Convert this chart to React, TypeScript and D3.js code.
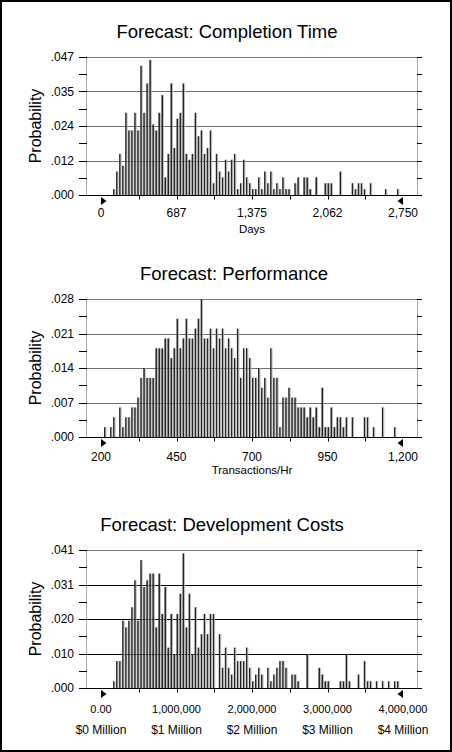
import { useEffect, useRef } from "react"
import * as d3 from "d3"

// Forecast: Completion Time — probability per 27.5-day bin, first bar is bin 4
const completionProbs = [
  0.002, 0.008, 0.014, 0.01, 0.028, 0.022, 0.022, 0.028, 0.022, 0.044,
  0.028, 0.038, 0.046, 0.024, 0.022, 0.028, 0.034, 0.006, 0.014, 0.038,
  0.016, 0.026, 0.028, 0.038, 0.014, 0.012, 0.014, 0.028, 0.02, 0.022,
  0.014, 0.016, 0.022, 0.004, 0.014, 0.008, 0.006, 0.012, 0.008, 0.012,
  0.014, 0.002, 0.004, 0.012, 0.006, 0.004, 0.002, 0.002, 0.006, 0.002,
  0.008, 0.004, 0.008, 0.002, 0.004, 0.002, 0.006, 0.002, 0.002, 0,
  0.004, 0.006, 0, 0.006, 0.006, 0.002, 0, 0.006, 0, 0,
  0.004, 0.004, 0.004, 0, 0, 0.008, 0, 0, 0, 0.004,
  0.002, 0.004, 0.004, 0.002, 0, 0.004, 0, 0, 0, 0,
  0.002, 0, 0, 0, 0.002,
]
const completionXTicks = ["0", "687", "1,375", "2,062", "2,750"]
const completionYTicks = [".000", ".012", ".024", ".035", ".047"]

// Forecast: Performance — probability per 10 transactions/hr bin, first bar is bin 1
const performanceProbs = [
  0.002, 0, 0.002, 0.004, 0, 0.006, 0.002, 0.004, 0.004, 0.006,
  0.006, 0.008, 0.012, 0.014, 0.012, 0.012, 0.012, 0.018, 0.018, 0.018,
  0.02, 0.02, 0.016, 0.018, 0.024, 0.018, 0.02, 0.024, 0.02, 0.02,
  0.022, 0.024, 0.028, 0.02, 0.02, 0.022, 0.018, 0.022, 0.02, 0.022,
  0.018, 0.02, 0.018, 0.016, 0.022, 0.012, 0.018, 0.018, 0.016, 0.012,
  0.012, 0.014, 0.01, 0.012, 0.008, 0.018, 0.012, 0.012, 0.002, 0.008,
  0.008, 0.01, 0.008, 0.008, 0.006, 0.006, 0.006, 0.004, 0.006, 0.004,
  0.006, 0.002, 0.01, 0.002, 0.002, 0.006, 0.002, 0.004, 0.004, 0.002,
  0.004, 0, 0.004, 0, 0, 0, 0.004, 0.004, 0, 0.002,
  0, 0, 0.006, 0, 0, 0, 0.002,
]
const performanceXTicks = ["200", "450", "700", "950", "1,200"]
const performanceYTicks = [".000", ".007", ".014", ".021", ".028"]

// Forecast: Development Costs — probability per $40,000 bin, first bar is bin 4
const costProbs = [
  0.002, 0.008, 0.008, 0.02, 0.018, 0.02, 0.024, 0.032, 0.02, 0.038,
  0.03, 0.032, 0.034, 0.034, 0.018, 0.034, 0.022, 0.03, 0.012, 0.022,
  0.01, 0.022, 0.028, 0.04, 0.018, 0.028, 0.01, 0.024, 0.012, 0.016,
  0.022, 0.016, 0.022, 0.022, 0, 0.016, 0.006, 0.012, 0.006, 0.004,
  0.012, 0.008, 0.008, 0.008, 0.012, 0.006, 0.002, 0.004, 0.006, 0.004,
  0, 0.006, 0.002, 0.004, 0.006, 0.008, 0.008, 0.006, 0, 0.004,
  0.004, 0.002, 0, 0, 0.01, 0, 0, 0, 0.006, 0.004,
  0.002, 0.002, 0, 0, 0, 0.002, 0.002, 0.01, 0.002, 0,
  0, 0.004, 0, 0.008, 0.002, 0.002, 0, 0.002, 0, 0.002,
  0, 0.002, 0, 0.002, 0.002,
]
const costXTicks = ["0.00", "1,000,000", "2,000,000", "3,000,000", "4,000,000"]
const costXTicks2 = ["$0 Million", "$1 Million", "$2 Million", "$3 Million", "$4 Million"]
const costYTicks = [".000", ".010", ".020", ".031", ".041"]

const FONT = "'Liberation Sans', Arial, Helvetica, sans-serif"

interface ChartConfig {
  title: string
  titleX: number
  probs: number[]
  firstBin: number
  xDomain: [number, number]
  yMax: number
  yTicks: string[]
  xTicks: string[]
  xTicks2?: string[]
  xTickSize: number
  axisLabel?: string
  top: number
  base: number
  tickLabelY: number
  axisLabelY: number
  gridColor: string
}

const charts: ChartConfig[] = [
  {
    title: "Forecast: Completion Time",
    titleX: 227,
    probs: completionProbs,
    firstBin: 4,
    xDomain: [0, 2750],
    yMax: 0.047,
    yTicks: completionYTicks,
    xTicks: completionXTicks,
    xTickSize: 12,
    axisLabel: "Days",
    top: 57,
    base: 195,
    tickLabelY: 213,
    axisLabelY: 229,
    gridColor: "#707070",
  },
  {
    title: "Forecast: Performance",
    titleX: 234,
    probs: performanceProbs,
    firstBin: 1,
    xDomain: [200, 1200],
    yMax: 0.028,
    yTicks: performanceYTicks,
    xTicks: performanceXTicks,
    xTickSize: 12,
    axisLabel: "Transactions/Hr",
    top: 299,
    base: 437,
    tickLabelY: 457,
    axisLabelY: 470,
    gridColor: "#707070",
  },
  {
    title: "Forecast: Development Costs",
    titleX: 222,
    probs: costProbs,
    firstBin: 4,
    xDomain: [0, 4000000],
    yMax: 0.041,
    yTicks: costYTicks,
    xTicks: costXTicks,
    xTicks2: costXTicks2,
    xTickSize: 11,
    top: 550,
    base: 688,
    tickLabelY: 709,
    axisLabelY: 729,
    gridColor: "#000000",
  },
]

function drawChart(root: d3.Selection<SVGGElement, unknown, null, undefined>, c: ChartConfig) {
  const g = root.append("g")
  const frameLeft = 86
  const frameRight = 417
  const tickOut = 79
  const tickEnd = 422

  const x = d3.scaleLinear().domain(c.xDomain).range([101, 403])
  const y = d3.scaleLinear().domain([0, c.yMax]).range([c.base, c.top])
  const binW = (c.xDomain[1] - c.xDomain[0]) / 100
  const crisp = (v: number) => Math.round(v) + 0.5

  // Title
  g.append("text")
    .attr("x", c.titleX)
    .attr("y", c.top - 19)
    .attr("text-anchor", "middle")
    .attr("font-family", FONT)
    .attr("font-size", "18.5px")
    .text(c.title)

  // Frame verticals
  ;[frameLeft, frameRight].forEach((fx) => {
    g.append("line")
      .attr("x1", fx + 0.5)
      .attr("x2", fx + 0.5)
      .attr("y1", crisp(c.top))
      .attr("y2", crisp(c.base))
      .attr("stroke", "#a8a8a8")
  })

  // Grid lines
  d3.range(1, 5).forEach((i) => {
    const yy = crisp(y((c.yMax * i) / 4))
    g.append("line")
      .attr("x1", frameLeft)
      .attr("x2", tickEnd)
      .attr("y1", yy)
      .attr("y2", yy)
      .attr("stroke", i === 4 ? "#7a7a7a" : c.gridColor)
  })

  // Left / right tick marks
  d3.range(0, 9).forEach((i) => {
    const yy = crisp(y((c.yMax * i) / 8))
    g.append("line").attr("x1", tickOut).attr("x2", frameLeft + 1).attr("y1", yy).attr("y2", yy).attr("stroke", "#000")
    g.append("line").attr("x1", frameRight).attr("x2", tickEnd).attr("y1", yy).attr("y2", yy).attr("stroke", "#000")
  })

  // Bars
  const bars = c.probs
    .map((p, i) => ({ p, bin: c.firstBin + i }))
    .filter((d) => d.p > 0)

  g.selectAll(".bar-dark")
    .data(bars)
    .enter()
    .append("rect")
    .attr("x", (d) => x(c.xDomain[0] + d.bin * binW))
    .attr("y", (d) => y(d.p))
    .attr("width", 1.6)
    .attr("height", (d) => c.base - y(d.p))
    .attr("fill", "#262626")

  g.selectAll(".bar-light")
    .data(bars)
    .enter()
    .append("rect")
    .attr("x", (d) => x(c.xDomain[0] + d.bin * binW) + 1.6)
    .attr("y", (d) => y(d.p))
    .attr("width", 0.8)
    .attr("height", (d) => c.base - y(d.p))
    .attr("fill", "#b4b4b4")

  // Baseline
  g.append("line")
    .attr("x1", tickOut)
    .attr("x2", tickEnd)
    .attr("y1", crisp(c.base))
    .attr("y2", crisp(c.base))
    .attr("stroke", "#000")

  // X tick marks
  d3.range(1, 8).forEach((i) => {
    const xx = crisp(x(c.xDomain[0] + ((c.xDomain[1] - c.xDomain[0]) * i) / 8))
    g.append("line")
      .attr("x1", xx)
      .attr("x2", xx)
      .attr("y1", c.base)
      .attr("y2", c.base + 4.5)
      .attr("stroke", "#000")
  })

  // Range arrows
  const x0 = x(c.xDomain[0])
  const x1 = x(c.xDomain[1])
  g.append("path")
    .attr("d", `M${x0},${c.base + 2} L${x0},${c.base + 10} L${x0 + 5.5},${c.base + 6} Z`)
    .attr("fill", "#000")
  g.append("path")
    .attr("d", `M${x1},${c.base + 2} L${x1},${c.base + 10} L${x1 - 5.5},${c.base + 6} Z`)
    .attr("fill", "#000")

  // Y tick labels
  c.yTicks.forEach((t, i) => {
    g.append("text")
      .attr("x", 74)
      .attr("y", y((c.yMax * i) / 4) + 4)
      .attr("text-anchor", "end")
      .attr("font-family", FONT)
      .attr("font-size", "12px")
      .text(t)
  })

  // X tick labels
  c.xTicks.forEach((t, i) => {
    g.append("text")
      .attr("x", x(c.xDomain[0] + ((c.xDomain[1] - c.xDomain[0]) * i) / 4))
      .attr("y", c.tickLabelY + 4)
      .attr("text-anchor", "middle")
      .attr("font-family", FONT)
      .attr("font-size", `${c.xTickSize}px`)
      .text(t)
  })

  if (c.xTicks2) {
    c.xTicks2.forEach((t, i) => {
      g.append("text")
        .attr("x", x(c.xDomain[0] + ((c.xDomain[1] - c.xDomain[0]) * i) / 4))
        .attr("y", c.axisLabelY + 4.5)
        .attr("text-anchor", "middle")
        .attr("font-family", FONT)
        .attr("font-size", "12px")
        .text(t)
    })
  }

  if (c.axisLabel) {
    g.append("text")
      .attr("x", x((c.xDomain[0] + c.xDomain[1]) / 2))
      .attr("y", c.axisLabelY + 4)
      .attr("text-anchor", "middle")
      .attr("font-family", FONT)
      .attr("font-size", "11.5px")
      .text(c.axisLabel)
  }

  // Y axis label
  g.append("text")
    .attr("transform", `translate(41,${(c.top + c.base) / 2}) rotate(-90)`)
    .attr("text-anchor", "middle")
    .attr("font-family", FONT)
    .attr("font-size", "16px")
    .text("Probability")
}

export default function App() {
  const svgRef = useRef<SVGSVGElement>(null)

  useEffect(() => {
    if (!svgRef.current) return
    const svg = d3.select(svgRef.current)
    svg.selectAll("*").remove()

    svg.append("rect").attr("width", 452).attr("height", 752).attr("fill", "#fff")
    svg
      .append("rect")
      .attr("x", 1)
      .attr("y", 1)
      .attr("width", 450)
      .attr("height", 750)
      .attr("fill", "none")
      .attr("stroke", "#000")
      .attr("stroke-width", 2)

    const root = svg.append("g")
    charts.forEach((c) => drawChart(root, c))
  }, [])

  return (
    <div style={{ position: "absolute", left: 0, top: 0 }}>
      <svg ref={svgRef} width={452} height={752} style={{ display: "block" }}></svg>
    </div>
  )
}
